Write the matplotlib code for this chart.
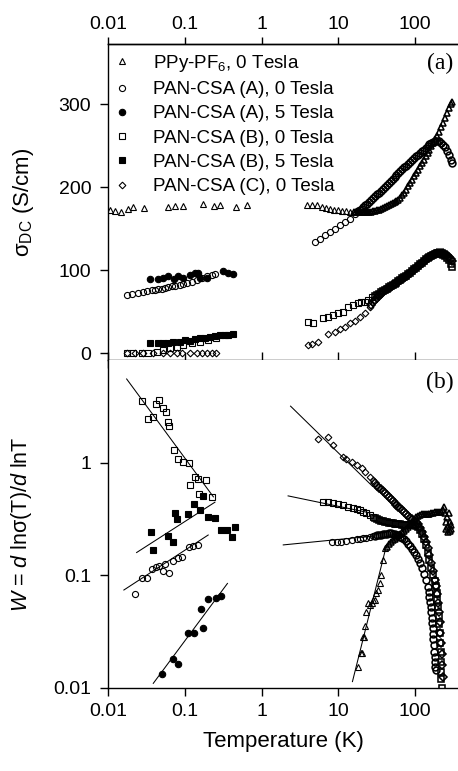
import matplotlib
matplotlib.use("Agg")
import matplotlib.pyplot as plt
from matplotlib.ticker import FixedLocator, NullLocator, FixedFormatter

plt.rcParams['font.family'] = ['Liberation Sans', 'DejaVu Sans']
plt.rcParams['mathtext.fontset'] = 'custom'
plt.rcParams['mathtext.rm'] = 'Liberation Sans'
plt.rcParams['mathtext.it'] = 'Liberation Sans:italic'
plt.rcParams['mathtext.bf'] = 'Liberation Sans:bold'

# ---------------- data: panel (a) sigma_DC (S/cm) ----------------
labels = ["PPy-PF$_6$, 0 Tesla", "PAN-CSA (A), 0 Tesla", "PAN-CSA (A), 5 Tesla",
          "PAN-CSA (B), 0 Tesla", "PAN-CSA (B), 5 Tesla", "PAN-CSA (C), 0 Tesla"]

ppy_T_lo = [0.0106, 0.0123, 0.0146, 0.0184, 0.021, 0.0297, 0.0598, 0.0744, 0.0937, 0.174, 0.242, 0.285, 0.459, 0.65]
ppy_s_lo = [173, 171, 169.5, 174, 176, 175, 176, 177, 177, 179.5, 177, 179, 176, 178]
ppy_T_hi = [3.86, 4.49, 5.31, 6.05, 6.9, 7.8, 8.8, 10.0, 11.2, 12.6, 14.2, 15.9, 16.9, 17.9, 19, 20.1,
            21.3, 22.6, 23.9, 25.4, 26.9, 28.5, 30.2, 32, 33.9, 36, 38.1, 40.4, 42.8, 45.4, 48.1, 51,
            54.1, 57.3, 60.7, 64.4, 68.2, 72.3, 76.7, 81.3, 86.1, 91.3, 96.8, 102.6, 108.7, 115.2,
            122.1, 129.5, 137.2, 145.5, 154.2, 163.4, 173.2, 183.6, 194.6, 206.3, 218.7, 231.8,
            245.7, 260.5, 276.1, 292.7, 300]
ppy_s_hi = [179, 178, 178, 176, 175, 174, 173, 172, 171.5, 171, 170.5, 170, 169.8, 169.6, 169.5, 169.4,
            169.4, 169.5, 169.7, 170, 170.4, 170.9, 171.5, 172.2, 173, 174, 175, 176, 177, 178, 179.2,
            180.4, 181.7, 183, 184.5, 187, 190, 193.5, 197, 201, 205, 209, 213, 217, 221, 225, 229,
            233, 237, 241, 245, 249, 253, 257.5, 262, 267, 272, 277.5, 283, 289, 295, 300.5, 303]

a0_T_lo = [0.0175, 0.0204, 0.0248, 0.0288, 0.0319, 0.0371, 0.041, 0.0452, 0.050, 0.0552, 0.061,
           0.0674, 0.0745, 0.0865, 0.0955, 0.108, 0.123, 0.143, 0.166, 0.193, 0.224, 0.247]
a0_s_lo = [69.9, 70.7, 72.7, 73.9, 74.7, 75.9, 75.9, 76.7, 77.5, 78.7, 79.9, 80.7, 81.1, 81.9, 82.8,
           84, 85.9, 88, 90.7, 92.8, 94, 94.8]
a0_T_hi = [4.95, 5.7, 6.7, 7.8, 9.0, 10.5, 12.1, 14.2, 16.5, 17.9, 19, 20.1, 21.3, 22.6, 23.9, 25.4,
           26.9, 28.5, 30.2, 32, 33.9, 36, 38.1, 40.4, 42.8, 45.4, 48.1, 51, 54.1, 57.3, 60.7, 64.4,
           68.2, 72.3, 76.7, 81.3, 86.1, 91.3, 96.8, 102.6, 108.7, 115.2, 122.1, 129.5, 137.2, 145.5,
           154.2, 163.4, 173.2, 183.6, 194.6, 206.3, 218.7, 231.8, 245.7, 260.5, 276.1, 292.7, 300]
a0_s_hi = [134, 138, 142, 146, 150, 154, 158, 162, 168, 171, 172.5, 174, 176, 178, 180, 182.5, 185,
           187, 189, 191.5, 193.5, 195.5, 197.5, 200, 202.5, 205, 207.5, 210, 212.5, 214.5, 216.5,
           219, 221.5, 224, 226, 228, 230.5, 232.5, 235, 237, 239, 241, 243, 245, 247.5, 249.5, 251.5,
           253, 254.5, 255.5, 255.5, 255, 253.5, 251, 248, 244, 239, 233, 229.5]

a5_T = [0.0352, 0.0452, 0.0525, 0.0609, 0.0722, 0.0822, 0.0955, 0.117, 0.136, 0.150, 0.158, 0.192,
        0.316, 0.367, 0.42]
a5_s = [88.7, 89.5, 91, 92.8, 88.8, 92.8, 91, 94, 96, 96, 90, 90, 98.8, 96.7, 95.2]

b0_T_lo = [0.0175, 0.0213, 0.0274, 0.0335, 0.0429, 0.0525, 0.0641, 0.0785, 0.0955, 0.123, 0.158,
           0.20, 0.254]
b0_s_lo = [0.4, 0.4, 0.4, 0.4, 1.6, 3.6, 5.6, 7.6, 9.6, 11.6, 13.6, 15.7, 17.7]
b0_T_hi = [4.06, 4.7, 6.3, 7.3, 8.6, 10.0, 11.5, 13.4, 15.6, 18.2, 20, 22, 24.5, 27.9, 30.2, 32, 33.9,
           36, 38.1, 40.4, 42.8, 45.4, 48.1, 51, 54.1, 57.3, 60.7, 64.4, 68.2, 72.3, 76.7, 81.3, 86.1,
           91.3, 96.8, 102.6, 108.7, 115.2, 122.1, 129.5, 137.2, 145.5, 154.2, 163.4, 173.2, 183.6,
           194.6, 206.3, 218.7, 231.8, 245.7, 260.5, 276.1, 292.7, 300]
b0_s_hi = [37.7, 35.8, 41.8, 44, 46, 48, 50, 55, 58, 60, 61.5, 62, 64, 68, 68.5, 70, 71.5, 73, 74.5,
           76, 77.5, 79, 80.5, 82, 83.5, 85, 86.5, 88.5, 90, 91.5, 93, 95, 97, 99, 101, 103, 105, 107,
           109, 111, 113, 114.5, 116, 117.5, 118.5, 119.5, 120, 120, 119.5, 118.5, 117, 115, 112,
           107, 104]

b5_T = [0.0352, 0.0452, 0.0525, 0.061, 0.0708, 0.0865, 0.100, 0.117, 0.136, 0.158, 0.183, 0.212,
        0.247, 0.285, 0.333, 0.367, 0.42]
b5_s = [12.4, 12.4, 12.4, 12.4, 13.6, 13.6, 15.7, 15, 16.5, 17.7, 18.5, 19.7, 20.5, 21.2, 21.7, 21.7, 22.5]

c0_T_lo = [0.0175, 0.0224, 0.0288, 0.0389, 0.0525, 0.0641, 0.0785, 0.0907, 0.117, 0.143, 0.166,
           0.193, 0.224, 0.254]
c0_s_lo = [0, 0, 0, -0.3, -0.3, -0.3, -0.3, -0.3, -0.3, -0.3, -0.3, -0.3, -0.3, -0.3]
c0_T_hi = [4.06, 4.5, 5.5, 7.3, 9.0, 10.5, 12.1, 14.2, 16.5, 19.1, 22, 25.6, 26.9, 28.5, 30.2, 32,
           33.9, 36, 38.1, 40.4, 42.8, 45.4, 48.1, 51, 54.1, 57.3, 60.7, 64.4, 68.2, 72.3, 76.7, 81.3,
           86.1, 91.3, 96.8, 102.6, 108.7, 115.2, 122.1, 129.5, 137.2, 145.5, 154.2, 163.4, 173.2,
           183.6, 194.6, 206.3, 218.7, 231.8, 245.7, 260.5, 276.1, 292.7, 300]
c0_s_hi = [9.6, 11, 13.6, 23, 25.7, 28.5, 31.7, 35.8, 39, 43.7, 48, 56, 58, 61, 64, 66.5, 69, 71.5,
           73.5, 75.5, 77, 78.5, 80, 81.5, 83, 84.5, 86, 88, 89.5, 91, 92.5, 94.5, 96.5, 98.5, 100.5,
           102.5, 104.5, 106.5, 108.5, 110.5, 112.5, 114, 115.5, 117, 118.5, 119.5, 120.5, 121, 121,
           120.5, 119.5, 118, 116, 113, 111]

# ---------------- data: panel (b) W ----------------
wppy_T = [18.2, 19.5, 20.1, 21.1, 21.7, 22.2, 23.3, 24.6, 26, 27.1, 28.5, 29.8, 31.3, 33, 34.7, 36.5,
          38.3, 40.5, 42.8, 45.4, 48.1, 51, 54.1, 57.3, 60.7, 64.4, 68.2, 72.3, 76.7, 81.3, 86.1,
          91.3, 96.8, 102.6, 108.7, 115.2, 122.1, 129.5, 137.2, 145.5, 154.2, 163.4, 173.2, 183.6,
          194.6, 206.3, 218.7, 231.8, 240, 245.7, 250, 255, 260.5, 265, 270, 276.1, 282, 288, 292.7, 298]
wppy_W = [0.0155, 0.0203, 0.0206, 0.0286, 0.0286, 0.0356, 0.0477, 0.0567, 0.055, 0.0567, 0.06,
          0.0605, 0.0695, 0.075, 0.0853, 0.10, 0.137, 0.174, 0.18, 0.19, 0.20, 0.205, 0.21, 0.22,
          0.228, 0.235, 0.242, 0.25, 0.26, 0.27, 0.285, 0.30, 0.315, 0.33, 0.34, 0.345, 0.35, 0.35,
          0.355, 0.355, 0.355, 0.36, 0.36, 0.365, 0.365, 0.37, 0.37, 0.38, 0.41, 0.36, 0.30, 0.26,
          0.33, 0.27, 0.245, 0.36, 0.25, 0.30, 0.26, 0.28]

wa0_T_lo = [0.0224, 0.0275, 0.0319, 0.0369, 0.042, 0.0466, 0.0514, 0.0552, 0.062, 0.0708, 0.0822,
            0.091, 0.114, 0.129, 0.150]
wa0_W_lo = [0.0685, 0.0944, 0.0944, 0.114, 0.118, 0.121, 0.11, 0.127, 0.106, 0.135, 0.144, 0.147,
            0.18, 0.183, 0.187]
wa0_T_hi = [8.2, 9.5, 11.0, 12.8, 14.9, 17.3, 19, 21.1, 23, 25.6, 28.5, 30.2, 32, 33.9, 36, 38.1,
            40.4, 42.8, 45.4, 48.1, 51, 54.1, 57.3, 60.7, 64.4, 68.2, 72.3, 76.7, 81.3, 86.1, 91.3,
            96.8, 102.6, 108.7, 115.2, 122.1, 129.5, 137.2, 145.5, 150, 154.2, 158, 161, 163.4, 166,
            168, 170, 172, 174, 176, 178, 180, 182, 184, 186]
wa0_W_hi = [0.20, 0.20, 0.20, 0.203, 0.207, 0.21, 0.212, 0.214, 0.217, 0.221, 0.224, 0.226, 0.228,
            0.229, 0.231, 0.233, 0.235, 0.236, 0.237, 0.237, 0.236, 0.234, 0.231, 0.227, 0.222,
            0.216, 0.209, 0.201, 0.192, 0.182, 0.172, 0.162, 0.151, 0.14, 0.128, 0.116, 0.104,
            0.092, 0.079, 0.072, 0.065, 0.058, 0.052, 0.047, 0.042, 0.038, 0.034, 0.03, 0.027,
            0.024, 0.021, 0.019, 0.017, 0.0155, 0.0145]

wa5_T = [0.05, 0.0696, 0.0822, 0.109, 0.133, 0.161, 0.174, 0.202, 0.254, 0.30]
wa5_W = [0.0133, 0.0181, 0.0163, 0.031, 0.0306, 0.050, 0.034, 0.0618, 0.0635, 0.0658]

wb0_T_lo = [0.0275, 0.0328, 0.038, 0.042, 0.0466, 0.0525, 0.057, 0.061, 0.0628, 0.073, 0.0822,
            0.094, 0.114, 0.136, 0.150, 0.189, 0.118, 0.154, 0.224]
wb0_W_lo = [3.56, 2.45, 2.55, 3.33, 3.63, 3.10, 2.86, 2.33, 2.15, 1.31, 1.08, 1.03, 1.0, 0.755,
            0.72, 0.70, 0.634, 0.53, 0.50]
wb0_T_hi = [6.3, 7.3, 8.6, 10, 11.5, 13.4, 15.6, 17.3, 19.1, 21, 23.3, 25.6, 28.2, 30.2, 32, 33.9,
            36, 38.1, 40.4, 42.8, 45.4, 48.1, 51, 54.1, 57.3, 60.7, 64.4, 68.2, 72.3, 76.7, 81.3,
            86.1, 91.3, 96.8, 102.6, 108.7, 115.2, 122.1, 129.5, 137.2, 145.5, 154.2, 163.4, 173.2,
            180, 186, 191, 196, 200, 204, 207, 210, 213, 215, 217, 219, 220.5, 222]
wb0_W_hi = [0.453, 0.448, 0.443, 0.433, 0.423, 0.41, 0.40, 0.39, 0.382, 0.37, 0.357, 0.345, 0.333,
            0.325, 0.318, 0.312, 0.307, 0.303, 0.30, 0.297, 0.295, 0.293, 0.291, 0.289, 0.287,
            0.285, 0.284, 0.283, 0.282, 0.281, 0.28, 0.28, 0.28, 0.28, 0.278, 0.27, 0.255, 0.235,
            0.21, 0.185, 0.16, 0.138, 0.117, 0.1, 0.09, 0.08, 0.07, 0.061, 0.052, 0.044, 0.037,
            0.031, 0.025, 0.021, 0.017, 0.014, 0.012, 0.0101]

wb5_T = [0.036, 0.038, 0.060, 0.0708, 0.0745, 0.080, 0.109, 0.133, 0.158, 0.174, 0.198, 0.247, 0.30,
         0.35, 0.41, 0.45]
wb5_W = [0.245, 0.169, 0.226, 0.20, 0.362, 0.316, 0.352, 0.432, 0.382, 0.51, 0.333, 0.327, 0.254,
         0.254, 0.218, 0.272]

wc0_T = [5.48, 7.39, 8.6, 11.4, 12.8, 14.9, 17.3, 20.1, 22.2, 25.6, 28.2, 30.2, 32, 33.9, 36, 38.1,
         40.4, 42.8, 45.4, 48.1, 51, 54.1, 57.3, 60.7, 64.4, 68.2, 72.3, 76.7, 81.3, 86.1, 91.3,
         96.8, 102.6, 108.7, 115.2, 122.1, 129.5, 137.2, 145.5, 154.2, 163.4, 173.2, 183.6, 190,
         196, 201, 206, 210, 214, 218, 222, 226, 230]
wc0_W = [1.63, 1.69, 1.44, 1.14, 1.09, 1.03, 0.96, 0.90, 0.84, 0.755, 0.70, 0.66, 0.625, 0.605,
         0.585, 0.56, 0.54, 0.52, 0.50, 0.48, 0.46, 0.44, 0.425, 0.41, 0.395, 0.38, 0.366, 0.352,
         0.338, 0.325, 0.315, 0.308, 0.30, 0.285, 0.265, 0.245, 0.222, 0.198, 0.175, 0.152, 0.13,
         0.11, 0.092, 0.08, 0.068, 0.057, 0.047, 0.039, 0.031, 0.025, 0.02, 0.016, 0.0125]

# power-law fit lines (end points)
fit_a0_T, fit_a0_W = [0.0161, 0.202], [0.0743, 0.229]
fit_a5_T, fit_a5_W = [0.0389, 0.36], [0.011, 0.085]
fit_b0_T, fit_b0_W = [0.0175, 0.236], [5.58, 0.50]
fit_b5_T, fit_b5_W = [0.0236, 0.247], [0.16, 0.448]
fit_ppy_T, fit_ppy_W = [15.3, 42.6], [0.0114, 0.187]
fit_c0h_T, fit_c0h_W = [2.39, 28], [3.2, 0.62]
fit_b0h_T, fit_b0h_W = [2.22, 26], [0.51, 0.36]
fit_a0h_T, fit_a0h_W = [1.92, 30], [0.187, 0.225]

xticks = [0.01, 0.1, 1, 10, 100]
xticklabels = ["0.01", "0.1", "1", "10", "100"]
yticks_a = [0, 100, 200, 300]
yticks_b = [0.01, 0.1, 1]
yticklabels_b = ["0.01", "0.1", "1"]

# ---------------- styles ----------------
mew = 0.8
sty = {
    'ppy': dict(marker='^', ms=3.7, mfc='none', mec='black', mew=mew, ls='none'),
    'a0': dict(marker='o', ms=4.4, mfc='none', mec='black', mew=mew, ls='none'),
    'a5': dict(marker='o', ms=4.6, mfc='black', mec='black', mew=mew, ls='none'),
    'b0': dict(marker='s', ms=4.0, mfc='none', mec='black', mew=mew, ls='none'),
    'b5': dict(marker='s', ms=4.2, mfc='black', mec='black', mew=mew, ls='none'),
    'c0': dict(marker='D', ms=3.4, mfc='none', mec='black', mew=mew, ls='none'),
}
# heavier outlines where the high-temperature sweeps pile up into bands
dense = {k: dict(v, mew=1.15, ms=v['ms'] + 0.5) for k, v in sty.items()}

W, H = 458, 771
fig = plt.figure(figsize=(W / 100, H / 100), dpi=100)
left = 108 / W
ax1 = fig.add_axes([left, 1 - 360 / H, 1 - left, (360 - 44) / H])
ax2 = fig.add_axes([left, 1 - 688 / H, 1 - left, (688 - 360) / H])

xlim = (0.01, 363)


def sweep(ax, T, v, key, n_sparse):
    """sparse start of a sweep with thin outlines, the dense remainder with heavier ones"""
    ax.plot(T[:n_sparse], v[:n_sparse], **sty[key])
    ax.plot(T[n_sparse:], v[n_sparse:], **dense[key])


# panel (a)
h_ppy, = ax1.plot(ppy_T_lo, ppy_s_lo, label=labels[0], **sty['ppy'])
sweep(ax1, ppy_T_hi, ppy_s_hi, 'ppy', 11)
h_a0, = ax1.plot(a0_T_lo, a0_s_lo, label=labels[1], **sty['a0'])
sweep(ax1, a0_T_hi, a0_s_hi, 'a0', 9)
h_a5, = ax1.plot(a5_T, a5_s, label=labels[2], **sty['a5'])
h_b0, = ax1.plot(b0_T_lo, b0_s_lo, label=labels[3], **sty['b0'])
sweep(ax1, b0_T_hi, b0_s_hi, 'b0', 14)
h_b5, = ax1.plot(b5_T, b5_s, label=labels[4], **sty['b5'])
h_c0, = ax1.plot(c0_T_lo, c0_s_lo, label=labels[5], **sty['c0'])
sweep(ax1, c0_T_hi, c0_s_hi, 'c0', 12)

# panel (b)
sweep(ax2, wppy_T, wppy_W, 'ppy', 18)
ax2.plot(wa0_T_lo, wa0_W_lo, **sty['a0'])
sweep(ax2, wa0_T_hi, wa0_W_hi, 'a0', 11)
ax2.plot(wa5_T, wa5_W, **sty['a5'])
ax2.plot(wb0_T_lo, wb0_W_lo, **sty['b0'])
sweep(ax2, wb0_T_hi, wb0_W_hi, 'b0', 13)
ax2.plot(wb5_T, wb5_W, **sty['b5'])
sweep(ax2, wc0_T, wc0_W, 'c0', 11)
for ft, fw in [(fit_a0_T, fit_a0_W), (fit_a5_T, fit_a5_W), (fit_b0_T, fit_b0_W),
               (fit_b5_T, fit_b5_W), (fit_ppy_T, fit_ppy_W), (fit_c0h_T, fit_c0h_W),
               (fit_b0h_T, fit_b0h_W), (fit_a0h_T, fit_a0h_W)]:
    ax2.plot(ft, fw, color='black', lw=0.75, zorder=1)

tick_fs = 14
for ax in (ax1, ax2):
    ax.set_xscale('log')
    ax.set_xlim(*xlim)
    ax.xaxis.set_major_locator(FixedLocator(xticks))
    ax.xaxis.set_minor_locator(NullLocator())
    ax.spines['right'].set_visible(False)
    for s in ('left', 'top', 'bottom'):
        ax.spines[s].set_linewidth(1.0)
    ax.tick_params(axis='y', which='major', direction='out', length=6, width=1.0,
                   labelsize=tick_fs, pad=6)

ax1.set_ylim(-8.4, 372.5)
ax1.yaxis.set_major_locator(FixedLocator(yticks_a))
ax1.tick_params(axis='x', which='major', direction='inout', length=11, width=1.0,
                labelbottom=False, bottom=True, top=False)
sec = ax1.secondary_xaxis('top')
sec.set_xticks(xticks)
sec.set_xticklabels(xticklabels)
sec.xaxis.set_minor_locator(NullLocator())
sec.tick_params(axis='x', which='major', direction='out', length=5, width=1.0,
                labelsize=tick_fs, pad=3)
sec.spines['top'].set_linewidth(1.0)

ax2.set_yscale('log')
ax2.set_ylim(0.01, 8.23)
ax2.yaxis.set_major_locator(FixedLocator(yticks_b))
ax2.yaxis.set_major_formatter(FixedFormatter(yticklabels_b))
ax2.yaxis.set_minor_locator(NullLocator())
ax2.spines['top'].set_visible(False)
ax2.xaxis.set_major_formatter(FixedFormatter(xticklabels))
ax2.tick_params(axis='x', which='major', direction='out', length=6, width=1.0,
                labelsize=tick_fs, pad=5)

ax1.set_ylabel("σ$_{\\rm DC}$ (S/cm)", fontsize=16)
ax2.set_ylabel("$W$ = $d$ lnσ(T)/$d$ lnT", fontsize=15.5)
ax1.yaxis.set_label_coords(-0.205, 0.5)
ax2.yaxis.set_label_coords(-0.21, 0.5)
ax2.set_xlabel("Temperature (K)", fontsize=16, labelpad=8)

ax1.text(0.949, 0.937, "(a)", transform=ax1.transAxes, ha='center', va='center',
         fontsize=17, family='Liberation Serif')
ax2.text(0.949, 0.933, "(b)", transform=ax2.transAxes, ha='center', va='center',
         fontsize=17, family='Liberation Serif')

leg = ax1.legend(handles=[h_ppy, h_a0, h_a5, h_b0, h_b5, h_c0], loc='upper left',
                 bbox_to_anchor=(0.013, 0.972), borderaxespad=0, borderpad=0, frameon=False,
                 handlelength=1.0, handletextpad=1.15, labelspacing=0.38, fontsize=13.5,
                 numpoints=1)

fig.savefig("out.png", dpi=100)
